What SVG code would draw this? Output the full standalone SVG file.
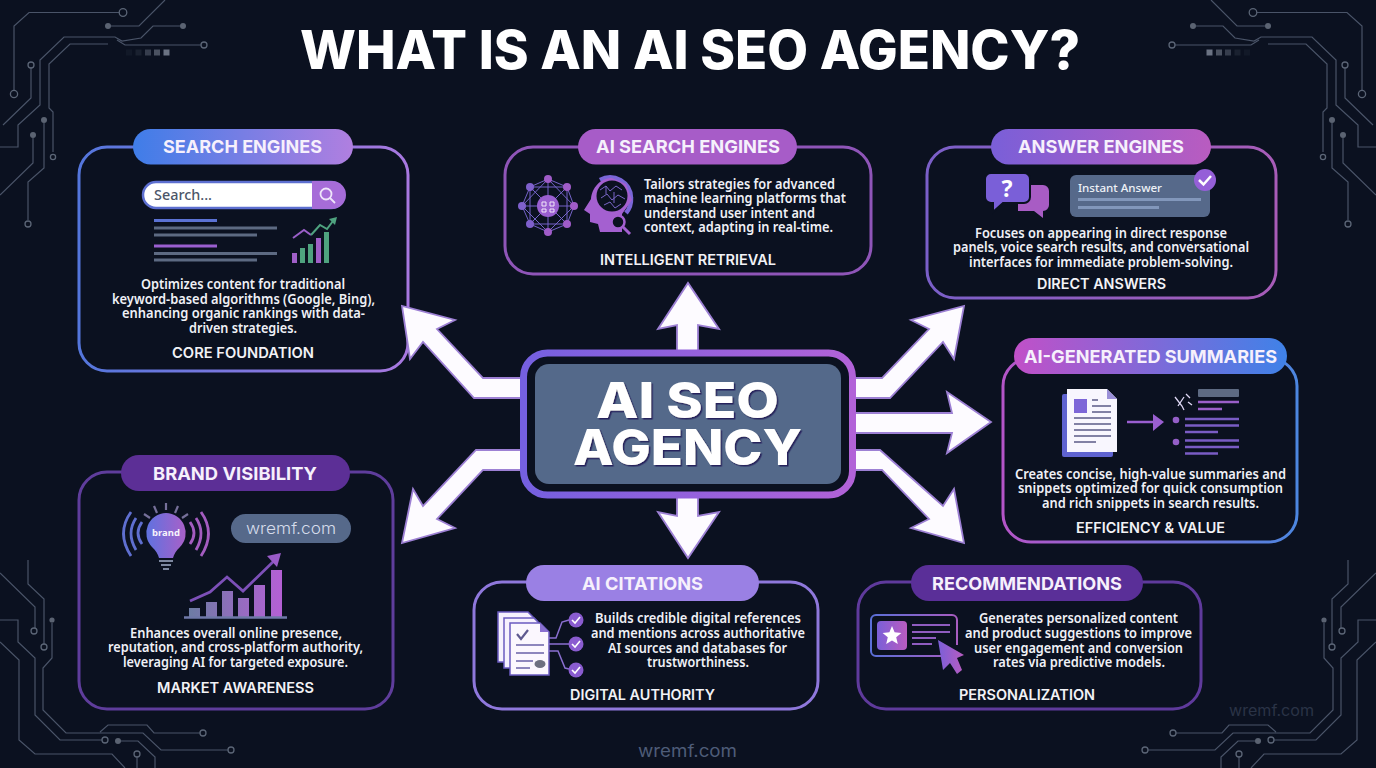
<svg xmlns="http://www.w3.org/2000/svg" width="1376" height="768" viewBox="0 0 1376 768">
<style>
text{font-family:"Noto Sans","Liberation Sans",sans-serif}
.b{font-size:14px;font-weight:600;fill:#eff0f6}
.h{font-family:Inter,"Liberation Sans",sans-serif;font-size:18px;font-weight:700;fill:#f6f0fc}
.s{font-family:Inter,"Liberation Sans",sans-serif;font-size:14.5px;font-weight:600;fill:#f2f2f6}
.panel{fill:#0b1120;stroke-width:3}
.arrow{fill:#fdfbff;stroke:#9d80d4;stroke-width:1.800;stroke-linejoin:miter}
.c{fill:none;stroke:#4a5468;stroke-width:1.2}
.ho{fill:#0b1120;stroke:#5b6576;stroke-width:1.3}
.do{fill:#5b6372}
.gl{stroke:#5d6a82;stroke-width:3}
.pl{stroke:#7a5cc4;stroke-width:2.5}
</style>
<defs>
<linearGradient id="g1"><stop offset="0" stop-color="#5476dc"/><stop offset="1" stop-color="#a878e0"/></linearGradient>
<linearGradient id="g3"><stop offset="0" stop-color="#7a5fc8"/><stop offset="1" stop-color="#a85cb8"/></linearGradient>
<linearGradient id="g4"><stop offset="0" stop-color="#b455c8"/><stop offset="1" stop-color="#4c86e0"/></linearGradient>
<linearGradient id="p1"><stop offset="0" stop-color="#3f7de8"/><stop offset="1" stop-color="#b07fe0"/></linearGradient>
<linearGradient id="p3"><stop offset="0" stop-color="#7a5fd8"/><stop offset="1" stop-color="#b95cc0"/></linearGradient>
<linearGradient id="p4"><stop offset="0" stop-color="#c150c8"/><stop offset="1" stop-color="#3f82e8"/></linearGradient>
<linearGradient id="cg"><stop offset="0" stop-color="#7560e0"/><stop offset="1" stop-color="#b262d8"/></linearGradient>
<linearGradient id="bars" gradientUnits="userSpaceOnUse" x1="189" y1="0" x2="281" y2="0"><stop offset="0" stop-color="#6d7ca4"/><stop offset="1" stop-color="#b460d4"/></linearGradient>
<linearGradient id="bulb"><stop offset="0" stop-color="#5f72e0"/><stop offset="1" stop-color="#a860c8"/></linearGradient>
<linearGradient id="rc"><stop offset="0" stop-color="#5a6fd8"/><stop offset="1" stop-color="#a85cc0"/></linearGradient>
<filter id="sh" x="-5%" y="-5%" width="110%" height="115%"><feDropShadow dx="1.5" dy="1.5" stdDeviation="0" flood-color="#26245c"/></filter>
<g id="circ">
<path class="c" d="M119 12.5H29L14 26V90M111 26H139L165 0M0 147H18V125L40 105V60L64 37H115L122 41L141 38L153 26H180M108 44H70L49 64V108L53 112V152M201 45H125L117 40M31 68V98L3 125M44 123V168L28 182V220M33 138V163L0 195"/>
<circle class="ho" cx="123" cy="12.5" r="3.8"/><circle class="ho" cx="14" cy="94" r="3.6"/><circle class="ho" cx="31" cy="65" r="3"/><circle class="ho" cx="53" cy="157" r="2.6"/><circle class="ho" cx="204" cy="45" r="3"/><circle class="ho" cx="28" cy="224" r="3"/>
<circle class="do" cx="108" cy="26" r="3"/><circle class="do" cx="183" cy="26" r="3"/><circle class="do" cx="44" cy="120" r="3"/><circle class="do" cx="33" cy="135" r="3"/>
<rect x="126" y="49.5" width="6" height="6" fill="#5b6372" opacity=".1"/><rect x="135.500" y="49.5" width="6" height="6" fill="#5b6372" opacity=".2"/><rect x="145" y="49.500" width="6" height="6" fill="#5b6372" opacity=".55"/><rect x="154" y="49.5" width="6" height="6" fill="#5b6372" opacity=".8"/><rect x="163.500" y="49.5" width="6" height="6" fill="#6b7383"/>
</g>
<g id="circb">
<path class="c" d="M0 573L35 607V628M28 560V584L44 599V644M52 623V658L43 668V710L66 733H143L161 750H228M0 620H18V642L35 658V715L60 740H102M0 642L19 660V740L35 754H112L125 768M100 732L108 725H147L154 733H200M121 741H138L155 757V768M137 757V768"/>
<circle class="ho" cx="34" cy="631" r="3"/><circle class="ho" cx="44" cy="647" r="3"/><circle class="do" cx="52" cy="620" r="2.6"/><circle class="ho" cx="231" cy="750" r="3"/><circle class="ho" cx="105" cy="740" r="3"/><circle class="ho" cx="203" cy="733" r="3"/><circle class="do" cx="118" cy="741" r="3"/><circle class="ho" cx="137" cy="754" r="3"/>
</g>
</defs>
<rect id="background" width="1376" height="768" fill="#0b1120"/>
<g id="circuits">
<use href="#circ"/><use href="#circ" transform="matrix(-1 0 0 1 1376 0)"/>
<use href="#circb"/><use href="#circb" transform="matrix(-1 0 0 1 1376 0)"/>
</g>
<text id="title" x="300" y="69" textLength="780" lengthAdjust="spacingAndGlyphs" style="font-family:Inter,'Liberation Sans',sans-serif;font-size:53px;font-weight:800;fill:#fff">WHAT IS AN AI SEO AGENCY?</text>

<g id="node-search-engines">
<rect class="panel" x="79" y="147" width="329" height="224" rx="28" stroke="url(#g1)"/>
<rect x="133" y="129" width="220" height="35.500" rx="17.700" fill="url(#p1)"/>
<text class="h" x="163" y="153" textLength="159" lengthAdjust="spacingAndGlyphs">SEARCH ENGINES</text>
<rect x="143" y="182" width="201" height="26" rx="13" fill="#fff" stroke="#5d6fd0" stroke-width="2.500"/>
<path d="M312 181H332a14 14 0 0 1 0 28H312Z" fill="#a66cd8"/>
<text x="154" y="200" textLength="58" lengthAdjust="spacingAndGlyphs" style="font-size:13.500px;font-weight:500;fill:#4c5568">Search...</text>
<circle cx="326" cy="194" r="5.500" fill="none" stroke="#efe6fa" stroke-width="1.800"/><path d="M330 198L335 203" stroke="#efe6fa" stroke-width="1.800"/>
<path d="M154 220.500H217" stroke="#5b72d4" stroke-width="3"/><path d="M154 246H217" stroke="#9a5fd0" stroke-width="3"/>
<path class="gl" d="M154 228H277M154 235H257M154 253.500H277M154 260H257"/>
<g fill="#4fa37f"><rect x="292" y="253" width="5" height="10" fill="#a05fc8"/><rect x="300" y="248" width="5" height="15"/><rect x="308" y="244" width="5" height="19"/><rect x="316" y="238" width="5" height="25" fill="#a05fc8"/><rect x="324" y="232" width="5" height="31"/></g>
<path d="M293 238L304 230L311 235" fill="none" stroke="#9a5fc8" stroke-width="2"/><path d="M311 235L320 225L327 229L333 221" fill="none" stroke="#4fa37f" stroke-width="2"/><path d="M329 219L337 217L335 225Z" fill="#4fa37f"/>
<text class="b"><tspan x="141" y="289" textLength="204" lengthAdjust="spacingAndGlyphs">Optimizes content for traditional</tspan><tspan x="112" y="303.500" textLength="263" lengthAdjust="spacingAndGlyphs">keyword-based algorithms (Google, Bing),</tspan><tspan x="122" y="318" textLength="243" lengthAdjust="spacingAndGlyphs">enhancing organic rankings with data-</tspan><tspan x="189" y="332.500" textLength="108" lengthAdjust="spacingAndGlyphs">driven strategies.</tspan></text>
<text class="s" x="172" y="358" textLength="142" lengthAdjust="spacingAndGlyphs">CORE FOUNDATION</text>
</g>

<g id="node-ai-search-engines">
<rect class="panel" x="505" y="147" width="366" height="127" rx="28" stroke="#8f55b8"/>
<rect x="578" y="129" width="219" height="35.500" rx="17.700" fill="#a75cc8"/>
<text class="h" x="596" y="153" textLength="184" lengthAdjust="spacingAndGlyphs">AI SEARCH ENGINES</text>
<path d="M548 179L567 187L574 206L567 224L548 232L530 224L522 206L530 187ZM548 179L574 206L548 232L522 206ZM567 187L567 224L530 224L530 187ZM548 179V232M522 206H574M530 187L567 224M567 187L530 224" fill="none" stroke="#7463c8" stroke-width="1"/>
<g fill="#7f60cc"><circle cx="530" cy="187" r="4"/><circle cx="522" cy="206" r="4"/><circle cx="530" cy="224" r="4"/></g>
<g fill="#a05cc8"><circle cx="548" cy="179" r="4"/><circle cx="567" cy="187" r="4"/><circle cx="574" cy="206" r="4"/><circle cx="567" cy="224" r="4"/><circle cx="548" cy="232" r="4"/></g>
<circle cx="548" cy="206" r="11" fill="#9a5fd0"/>
<path d="M542 202h4v4h-4zM550 202h4v4h-4zM542 209h4v3h-4zM550 209h4v3h-4z" fill="none" stroke="#f2e8fa" stroke-width="1"/>
<path d="M600 180A21 21 0 0 1 631 198A21 21 0 0 1 626 213" fill="none" stroke="#7a66d8" stroke-width="4.500"/>
<path d="M612 178C600 178 592 188 591 199L584 210L590 214V222L598 224L600 232H622V214L632 200L626 184Z" fill="#a460d0"/>
<circle cx="612" cy="196" r="15.500" fill="#0b1120"/>
<path d="M600 190L606 186L610 191L616 186L622 190M601 198L607 194L612 200L618 195L625 199M604 205L610 202L615 208L621 204M606 186V194M614 192V203" fill="none" stroke="#7a66c8" stroke-width="1"/>
<circle cx="618" cy="222" r="6.500" fill="#0b1120" stroke="#a460d0" stroke-width="2.500"/><path d="M623 227L630 234" stroke="#a460d0" stroke-width="3"/>
<text class="b"><tspan x="644" y="188.500" textLength="191" lengthAdjust="spacingAndGlyphs">Tailors strategies for advanced</tspan><tspan x="644" y="203" textLength="202" lengthAdjust="spacingAndGlyphs">machine learning platforms that</tspan><tspan x="644" y="218" textLength="171" lengthAdjust="spacingAndGlyphs">understand user intent and</tspan><tspan x="644" y="232" textLength="189" lengthAdjust="spacingAndGlyphs">context, adapting in real-time.</tspan></text>
<text class="s" x="600" y="265" textLength="176" lengthAdjust="spacingAndGlyphs">INTELLIGENT RETRIEVAL</text>
</g>

<g id="node-answer-engines">
<rect class="panel" x="927" y="147" width="349" height="151" rx="28" stroke="url(#g3)"/>
<rect x="991" y="129" width="220" height="35.500" rx="17.700" fill="url(#p3)"/>
<text class="h" x="1018" y="153" textLength="166" lengthAdjust="spacingAndGlyphs">ANSWER ENGINES</text>
<path d="M1018 185H1043a6 6 0 0 1 6 6V205a6 6 0 0 1 -6 6V218L1034 211H1018Z" fill="#a85cc4"/>
<path d="M991 173H1024a6 6 0 0 1 6 6V197a6 6 0 0 1 -6 6H1003L993 212V203H991a6 6 0 0 1 -6 -6V179a6 6 0 0 1 6 -6Z" fill="#7a5fd8" stroke="#0b1120" stroke-width="2"/>
<text x="1007" y="197" text-anchor="middle" style="font-size:23px;font-weight:700;fill:#fff">?</text>
<rect x="1070" y="175" width="140" height="42" rx="6" fill="#56698a"/>
<text x="1078" y="192" textLength="84" lengthAdjust="spacingAndGlyphs" style="font-size:11.500px;font-weight:500;fill:#eef1f7">Instant Answer</text>
<path d="M1078 199.500H1201M1078 207.500H1159" stroke="#8297bb" stroke-width="3"/>
<circle cx="1205" cy="180" r="11" fill="#955fd8"/><path d="M1199 180L1203.500 184.500L1211 176" fill="none" stroke="#fff" stroke-width="2.500"/>
<text class="b"><tspan x="975" y="237.500" textLength="252" lengthAdjust="spacingAndGlyphs">Focuses on appearing in direct response</tspan><tspan x="953" y="252" textLength="296" lengthAdjust="spacingAndGlyphs">panels, voice search results, and conversational</tspan><tspan x="969" y="267" textLength="264" lengthAdjust="spacingAndGlyphs">interfaces for immediate problem-solving.</tspan></text>
<text class="s" x="1037" y="289" textLength="129" lengthAdjust="spacingAndGlyphs">DIRECT ANSWERS</text>
</g>

<g id="node-ai-generated-summaries">
<rect class="panel" x="1003" y="358" width="294" height="184" rx="28" stroke="url(#g4)"/>
<rect x="1014" y="338" width="273" height="36" rx="18" fill="url(#p4)"/>
<text class="h" x="1024" y="363" textLength="253" lengthAdjust="spacingAndGlyphs">AI-GENERATED SUMMARIES</text>
<rect x="1062" y="394" width="51" height="63" rx="2" fill="#5f63d0"/>
<path d="M1067 389H1107L1117 399V452H1067Z" fill="#f8f6fe"/><path d="M1107 389L1117 399H1107Z" fill="#9a8fd8"/>
<rect x="1074" y="399" width="13" height="14" fill="#7d66d8"/>
<path d="M1092 400H1098M1092 406H1111M1092 412H1111M1074 418H1111M1074 424H1111M1074 430H1111M1074 436H1111M1074 442H1096" stroke="#5b5b88" stroke-width="1.500"/>
<path d="M1127 422H1155" stroke="#9a5fd0" stroke-width="2.500"/><path d="M1153 414L1164 422L1153 431Z" fill="#9a5fd0"/>
<path d="M1175 397L1182 406L1184 410M1184 397L1178 406M1186 394L1190 398M1188 402L1192 405" fill="none" stroke="#dfd8f5" stroke-width="1.300"/>
<rect x="1198" y="389" width="41" height="8" rx="1" fill="#5d6a82"/>
<path d="M1198 402H1239M1198 409H1222" stroke="#9a5fc8" stroke-width="2.500"/>
<circle cx="1176" cy="420" r="3.300" fill="#955fc8"/><circle cx="1176" cy="442" r="3.300" fill="#955fc8"/>
<path class="pl" d="M1185 419H1239M1185 425.500H1239M1185 432H1218M1185 440.500H1239M1185 447H1239M1185 453.500H1218"/>
<text class="b"><tspan x="1015" y="478.500" textLength="271" lengthAdjust="spacingAndGlyphs">Creates concise, high-value summaries and</tspan><tspan x="1018" y="493" textLength="265" lengthAdjust="spacingAndGlyphs">snippets optimized for quick consumption</tspan><tspan x="1042" y="508" textLength="217" lengthAdjust="spacingAndGlyphs">and rich snippets in search results.</tspan></text>
<text class="s" x="1076" y="532.500" textLength="149" lengthAdjust="spacingAndGlyphs">EFFICIENCY &amp; VALUE</text>
</g>

<g id="node-brand-visibility">
<rect class="panel" x="79" y="472" width="314" height="237" rx="28" stroke="#5f3d9c"/>
<rect x="121" y="455" width="229" height="36" rx="18" fill="#5c2f96"/>
<text class="h" x="153" y="480" textLength="164" lengthAdjust="spacingAndGlyphs">BRAND VISIBILITY</text>
<path d="M166 513A20 20 0 0 1 180 547C176 551 174 554 173 558H159C158 554 156 551 152 547A20 20 0 0 1 166 513Z" fill="url(#bulb)"/>
<text x="166" y="536" text-anchor="middle" style="font-size:9.500px;font-weight:700;fill:#f6f2fc">brand</text>
<path d="M159 561H173M161 565H171M163 569H169" stroke="#7d88a0" stroke-width="2"/>
<path d="M166 503V510M154 506L157 513M178 506L175 513M144 514L150 518M188 514L182 518" stroke="#76709a" stroke-width="2.200"/>
<path d="M142 522Q134 533 142 544M136 518Q126 533 136 550M131 512Q116 533 131 556" fill="none" stroke="#5f6fd0" stroke-width="2.800"/>
<path d="M190 522Q198 533 190 544M196 518Q206 533 196 550M201 512Q216 533 201 556" fill="none" stroke="#a45cc0" stroke-width="2.800"/>
<rect x="231" y="514" width="120" height="29" rx="14.500" fill="#56698a"/>
<text x="246" y="534" textLength="90" lengthAdjust="spacingAndGlyphs" style="font-family:Inter,sans-serif;font-size:16px;font-weight:300;fill:#d5dcea">wremf.com</text>
<g fill="url(#bars)"><rect x="189" y="608" width="11" height="9"/><rect x="206" y="602" width="11" height="15"/><rect x="222" y="591" width="11" height="26"/><rect x="238" y="598" width="11" height="19"/><rect x="254" y="585" width="11" height="32"/><rect x="271" y="570" width="11" height="47"/></g>
<path d="M184 617.500H287" stroke="#6f78a8" stroke-width="2.500"/>
<path d="M190 601L210 592L227 577L243 591L276 559" fill="none" stroke="#7d50b8" stroke-width="2.800"/><path d="M267 556L281 553L277 567Z" fill="#9a5cc8"/>
<text class="b"><tspan x="130" y="637.500" textLength="212" lengthAdjust="spacingAndGlyphs">Enhances overall online presence,</tspan><tspan x="108" y="652" textLength="255" lengthAdjust="spacingAndGlyphs">reputation, and cross-platform authority,</tspan><tspan x="123" y="667" textLength="225" lengthAdjust="spacingAndGlyphs">leveraging AI for targeted exposure.</tspan></text>
<text class="s" x="157" y="692.500" textLength="157" lengthAdjust="spacingAndGlyphs">MARKET AWARENESS</text>
</g>

<g id="node-ai-citations">
<rect class="panel" x="474" y="582" width="344" height="127" rx="28" stroke="#8f78dc"/>
<rect x="526" y="565" width="233" height="36" rx="18" fill="#9a80e4"/>
<text class="h" x="582" y="590" textLength="121" lengthAdjust="spacingAndGlyphs">AI CITATIONS</text>
<path d="M498 612H528L537 621V662H498Z" fill="#f6f1fd" stroke="#6b5bc0" stroke-width="1.500"/>
<path d="M504 618H534L543 627V668H504Z" fill="#f6f1fd" stroke="#6b5bc0" stroke-width="1.500"/>
<path d="M510 623H540L549 632V675H510Z" fill="#fbf7fe" stroke="#6b5bc0" stroke-width="1.500"/>
<path d="M540 623L549 632H540Z" fill="#8a70d0"/>
<path d="M517 634L521 639L528 630" fill="none" stroke="#5f5a90" stroke-width="2.200"/>
<path d="M516 645H544M516 653H544M516 661H533M516 668H530" stroke="#6a62a8" stroke-width="1.500"/>
<ellipse cx="540" cy="664" rx="5.500" ry="4" fill="#6d7080"/>
<path d="M549 638H556L562 622L569 620M549 644H569M549 651H558L565 668L569 669" fill="none" stroke="#8a6fd0" stroke-width="1.500"/>
<g fill="#8a5cd0"><circle cx="576" cy="620" r="7.500"/><circle cx="576" cy="644" r="7.500"/><circle cx="576" cy="670" r="7.500"/></g>
<path d="M572 620L575 623L580 617M572 644L575 647L580 641M572 670L575 673L580 667" fill="none" stroke="#fff" stroke-width="1.600"/>
<text class="b"><tspan x="595" y="623" textLength="206" lengthAdjust="spacingAndGlyphs">Builds credible digital references</tspan><tspan x="591" y="638" textLength="214" lengthAdjust="spacingAndGlyphs">and mentions across authoritative</tspan><tspan x="608" y="652.500" textLength="179" lengthAdjust="spacingAndGlyphs">AI sources and databases for</tspan><tspan x="647" y="667" textLength="102" lengthAdjust="spacingAndGlyphs">trustworthiness.</tspan></text>
<text class="s" x="570" y="700" textLength="145" lengthAdjust="spacingAndGlyphs">DIGITAL AUTHORITY</text>
</g>

<g id="node-recommendations">
<rect class="panel" x="858" y="582" width="343" height="127" rx="28" stroke="#5f3a9c"/>
<rect x="911" y="565" width="232" height="36" rx="18" fill="#5a2f98"/>
<text class="h" x="932" y="590" textLength="190" lengthAdjust="spacingAndGlyphs">RECOMMENDATIONS</text>
<path d="M957 645V620a5 5 0 0 0 -5 -5H876a5 5 0 0 0 -5 5V651a5 5 0 0 0 5 5H942" fill="none" stroke="url(#rc)" stroke-width="2"/>
<rect x="877" y="621" width="30" height="29" rx="4" fill="url(#p3)"/>
<path d="M892 626L894.600 632.300L901.400 632.900L896.200 637.300L897.800 644L892 640.400L886.200 644L887.800 637.300L882.600 632.900L889.400 632.300Z" fill="#fff"/>
<path d="M912 625H950M912 632H950M912 638H936M912 644H932" stroke="#8f5cc0" stroke-width="2"/>
<path d="M938 640L964 655L957 658L962 670L957 674L950 663L943 670Z" fill="url(#p3)"/>
<text class="b"><tspan x="979" y="623" textLength="199" lengthAdjust="spacingAndGlyphs">Generates personalized content</tspan><tspan x="965" y="638" textLength="227" lengthAdjust="spacingAndGlyphs">and product suggestions to improve</tspan><tspan x="974" y="652.500" textLength="209" lengthAdjust="spacingAndGlyphs">user engagement and conversion</tspan><tspan x="993" y="667" textLength="172" lengthAdjust="spacingAndGlyphs">rates via predictive models.</tspan></text>
<text class="s" x="959" y="700" textLength="136" lengthAdjust="spacingAndGlyphs">PERSONALIZATION</text>
</g>

<g id="connectors">
<path class="arrow" d="M677 352V325L658 329L688 283L719 329L698 325V352Z"/>
<path class="arrow" d="M677 496V516L658 512L688 558L719 512L698 516V496Z"/>
<path class="arrow" d="M854 413H952L947 392L991 422L947 453L952 433H854Z"/>
<path class="arrow" d="M854 378H882L929 329L911 320L964 306L954 359L943 342L890 398H854Z"/>
<path class="arrow" d="M854 450H880L943 506L954 489L964 543L911 528L929 519L882 470H854Z"/>
<path class="arrow" d="M522 378H483L437 329L455 320L402 306L410 359L423 342L474 398H522Z"/>
<path class="arrow" d="M522 450H476L423 506L413 489L402 543L455 528L437 519L483 470H522Z"/>
</g>

<g id="node-center">
<rect x="523.500" y="353" width="329" height="142" rx="24" fill="#0b1120" stroke="url(#cg)" stroke-width="7"/>
<rect x="535" y="364" width="306" height="120" rx="14" fill="#54698a"/>
<text filter="url(#sh)" style="font-family:Inter,'Liberation Sans',sans-serif;font-size:50px;font-weight:800;fill:#fff"><tspan x="596" y="418" textLength="183" lengthAdjust="spacingAndGlyphs">AI SEO</tspan><tspan x="573" y="465" textLength="229" lengthAdjust="spacingAndGlyphs">AGENCY</tspan></text>
</g>

<text id="watermark-bottom" x="638" y="757" textLength="99" lengthAdjust="spacingAndGlyphs" style="font-family:Inter,sans-serif;font-size:17px;fill:#4e5c78">wremf.com</text>
<text id="watermark-corner" x="1229" y="716" textLength="85" lengthAdjust="spacingAndGlyphs" style="font-family:Inter,sans-serif;font-size:15px;fill:#2a3346">wremf.com</text>
</svg>
